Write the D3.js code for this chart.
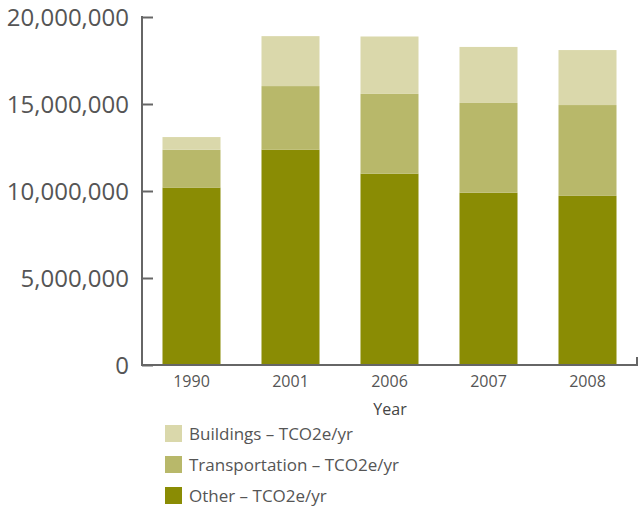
<!DOCTYPE html>
<html><head><meta charset="utf-8">
<script src="https://cdn.jsdelivr.net/npm/d3@7"></script>
<style>body{margin:0;background:#fff;} svg{display:block;}</style>
</head><body>
<svg id="chart" width="638" height="510"></svg>
<script>
const years = ["1990", "2001", "2006", "2007", "2008"];
const other = [10200000, 12380000, 11000000, 9900000, 9720000];
const transportation = [2170000, 3650000, 4580000, 5160000, 5220000];
const buildings = [730000, 2870000, 3300000, 3220000, 3160000];
const seriesNames = ["Other – TCO2e/yr", "Transportation – TCO2e/yr", "Buildings – TCO2e/yr"];
const seriesColors = ["#8a8c04", "#b8b86a", "#dad8ab"];
const yTicks = [0, 5000000, 10000000, 15000000, 20000000];

const svg = d3.select("#chart");
const font = "'Open Sans', sans-serif";
const axisColor = "#666";
const textColor = "#555";

const x = d3.scaleBand().domain(years).range([142, 637]).paddingInner(0.414).paddingOuter(0.207);
const y = d3.scaleLinear().domain([0, 20000000]).range([365, 17]);

const rows = years.map((yr, i) => ({year: yr, s0: other[i], s1: transportation[i], s2: buildings[i]}));
const stack = d3.stack().keys(["s0", "s1", "s2"])(rows);

svg.append("g").selectAll("g").data(stack).join("g")
  .attr("fill", (d, i) => seriesColors[i])
  .selectAll("rect").data(d => d).join("rect")
  .attr("x", d => x(d.data.year))
  .attr("width", x.bandwidth())
  .attr("y", d => y(d[1]))
  .attr("height", d => y(d[0]) - y(d[1]));

// y axis
const yAxis = svg.append("g").attr("transform", "translate(142,0)")
  .call(d3.axisRight(y).tickValues(yTicks).tickSize(11).tickFormat(""));
yAxis.select(".domain").remove();
yAxis.selectAll("line").attr("stroke", axisColor).attr("stroke-width", 2);
svg.append("line").attr("x1", 142).attr("x2", 142).attr("y1", y(20000000) - 1).attr("y2", y(0) + 1)
  .attr("stroke", axisColor).attr("stroke-width", 2);
svg.append("g").selectAll("text").data(yTicks).join("text")
  .attr("x", 129).attr("y", d => y(d)).attr("dy", "0.36em")
  .attr("text-anchor", "end").attr("font-family", font).attr("font-size", 24)
  .attr("fill", textColor)
  .text(d => d3.format(",")(d));

// x axis
svg.append("line").attr("x1", 141).attr("x2", 637).attr("y1", y(0)).attr("y2", y(0))
  .attr("stroke", axisColor).attr("stroke-width", 2);
svg.append("line").attr("x1", 637).attr("x2", 637).attr("y1", y(0) + 1).attr("y2", y(0) - 8)
  .attr("stroke", axisColor).attr("stroke-width", 2);
const xAxis = svg.append("g").attr("transform", "translate(0,365)")
  .call(d3.axisBottom(x).tickSize(0).tickPadding(11));
xAxis.select(".domain").remove();
xAxis.selectAll("text").attr("font-family", font).attr("font-size", 16).attr("fill", textColor);

svg.append("text").attr("x", 390).attr("y", 409).attr("dy", "0.36em")
  .attr("text-anchor", "middle").attr("font-family", font).attr("font-size", 16)
  .attr("fill", "#444").text("Year");

// legend
const legendOrder = [2, 1, 0];
const lg = svg.append("g").selectAll("g").data(legendOrder).join("g")
  .attr("transform", (d, i) => `translate(165,${425 + i * 31})`);
lg.append("rect").attr("width", 17).attr("height", 17).attr("fill", d => seriesColors[d]);
lg.append("text").attr("x", 24).attr("y", 8.5).attr("dy", "0.36em")
  .attr("font-family", font).attr("font-size", 17).attr("fill", textColor)
  .text(d => seriesNames[d]);
</script>
</body></html>
